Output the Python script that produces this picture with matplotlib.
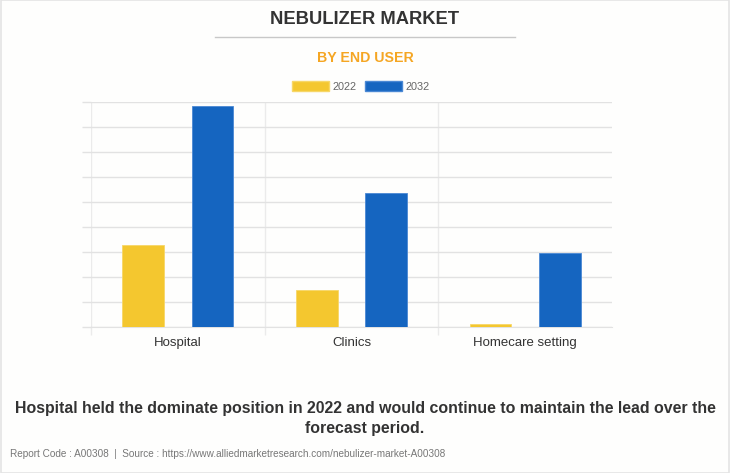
import matplotlib.pyplot as plt
import numpy as np
from matplotlib.patches import Patch

plt.rcParams['font.family'] = ['Liberation Sans', 'DejaVu Sans']

categories = ['Hospital', 'Clinics', 'Homecare setting']
years = ['2022', '2032']
values_2022 = [3.28, 1.49, 0.12]
values_2032 = [8.81, 5.37, 2.95]

colors = ['#F4C72F', '#1565C0']
grid_color = '#E2E2E2'

fig = plt.figure(figsize=(7.3, 4.73), dpi=100)
fig.patch.set_facecolor('#FEFEFD')

# light frame around the whole picture
fig.add_artist(plt.Rectangle((0.001, 0.001), 0.998, 0.998, transform=fig.transFigure,
                             fill=False, edgecolor='#E4E4E4', linewidth=1.2))

ax = fig.add_axes([91 / 730, (473 - 327.3) / 473, 521 / 730, 225.6 / 473])
ax.set_facecolor('none')

x = np.arange(len(categories))
ax.bar(x - 0.2, values_2022, width=0.24, color=colors[0], edgecolor='#F7D768', linewidth=0.6, zorder=3)
ax.bar(x + 0.2, values_2032, width=0.24, color=colors[1], edgecolor='#4A88D4', linewidth=0.6, zorder=3)

ax.set_xlim(-0.5, 2.5)
ax.set_ylim(0, 9)

# horizontal grid (ticks stick out to the left)
ax.set_yticks(np.arange(0, 10, 1))
ax.set_yticklabels([])
ax.tick_params(axis='y', length=6.5, color=grid_color, width=1)
ax.yaxis.grid(True, color=grid_color, linewidth=1, zorder=0)

# category boundaries as vertical lines with ticks below
ax.set_xticks(x)
ax.set_xticklabels(categories, fontsize=9.5, color='#333333')
ax.tick_params(axis='x', length=0, pad=7)
ax.set_xticks(np.arange(-0.5, 2.0, 1), minor=True)
ax.tick_params(axis='x', which='minor', length=6, color='#EBEBEB', width=1)
ax.xaxis.grid(True, which='minor', color='#EBEBEB', linewidth=1, zorder=0)

for s in ['top', 'right', 'left']:
    ax.spines[s].set_visible(False)
ax.spines['bottom'].set_color(grid_color)

fig.text(0.5, 1 - 20 / 473, 'NEBULIZER MARKET', ha='center', va='center',
         fontsize=13.2, fontweight='bold', color='#333333')
fig.add_artist(plt.Line2D([215 / 730, 515 / 730], [1 - 37 / 473, 1 - 37 / 473],
                          transform=fig.transFigure, color='#C8C8C8', linewidth=1))
fig.text(0.5, 1 - 58.5 / 473, 'BY END USER', ha='center', va='center',
         fontsize=10.2, fontweight='bold', color='#F5A623')

handles = [Patch(facecolor=colors[0], edgecolor='#F7D768'),
           Patch(facecolor=colors[1], edgecolor='#4A88D4')]
fig.legend(handles, years, loc='center', bbox_to_anchor=(361 / 730, 1 - 86.5 / 473),
           ncol=2, frameon=False, fontsize=7.8, labelcolor='#666666',
           handlelength=3.4, handleheight=1.1, handletextpad=0.35, columnspacing=0.8)

fig.text(0.5, 1 - 408 / 473, 'Hospital held the dominate position in 2022 and would continue to maintain the lead over the',
         ha='center', va='center', fontsize=11.4, fontweight='bold', color='#333333')
fig.text(0.5, 1 - 428 / 473, 'forecast period.',
         ha='center', va='center', fontsize=11.4, fontweight='bold', color='#333333')
fig.text(10 / 730, 1 - 454 / 473,
         'Report Code : A00308  |  Source : https://www.alliedmarketresearch.com/nebulizer-market-A00308',
         ha='left', va='center', fontsize=7.2, color='#777777')

fig.savefig('out.png', dpi=100, facecolor=fig.get_facecolor())
